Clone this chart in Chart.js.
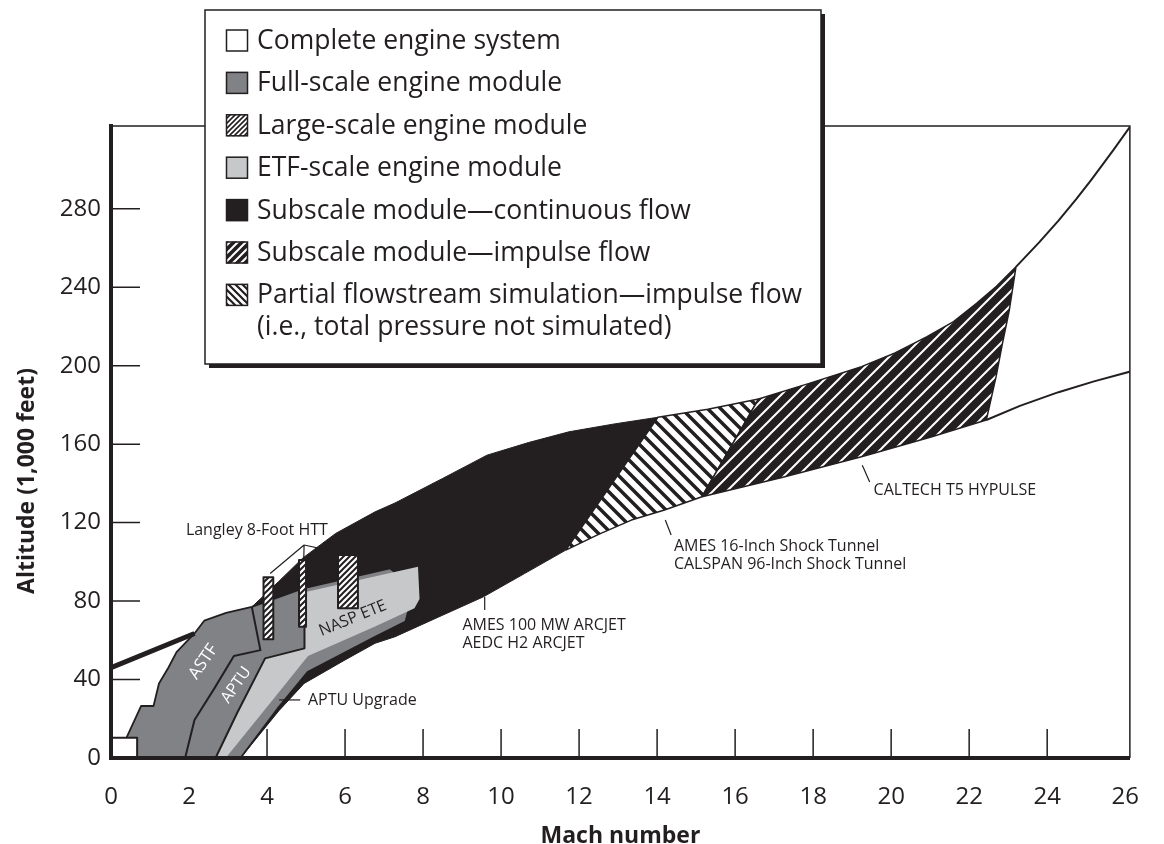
<!DOCTYPE html>
<html>
<head>
<meta charset="utf-8">
<title>Test capability envelope</title>
<script src="https://cdn.jsdelivr.net/npm/chart.js@4"></script>
<style>
  html, body { margin: 0; background: #fff; }
  #wrap { width: 1164px; height: 844px; }
</style>
</head>
<body>
<div id="wrap"><canvas id="chart" width="1164" height="844"></canvas></div>
<script>
// axis ticks
const machTicks = [0, 2, 4, 6, 8, 10, 12, 14, 16, 18, 20, 22, 24, 26];
const altTicks = [0, 40, 80, 120, 160, 200, 240, 280];

// subscale module, continuous flow (arcjets)
const continuousMach = [3.32, 3.0, 3.61, 4.3, 4.92, 5.76, 6.77, 7.28, 8.5, 9.64, 10.7, 11.74, 12.9, 14.02, 11.66, 10.6, 9.55, 8.4, 7.28, 6.77, 6.0, 4.95, 4.3];
const continuousAlt = [0, 40, 77, 90, 102, 114.5, 125.5, 130, 142.5, 154.4, 160.8, 166.3, 170.3, 173.7, 106, 94, 82.2, 71.9, 61.8, 58.5, 50, 38, 24];

// full-scale engine module (ASTF, APTU, APTU upgrade)
const fullMach = [0.6, 0.41, 0.77, 1.09, 1.23, 1.47, 1.68, 2.14, 2.39, 2.95, 3.61, 4.92, 7.15, 7.45, 7.62, 7.55, 6.77, 5.05, 4.3, 3.32];
const fullAlt = [0, 10.9, 26.5, 26.5, 38, 46, 54, 63.5, 70, 74, 77, 86.5, 96.7, 92, 75, 69.5, 61.8, 44, 26, 0];

// ETF-scale engine module (NASP ETE)
const etfMach = [2.68, 3.23, 3.95, 4.96, 4.96, 7.87, 7.91, 7.78, 6.77, 5.05, 4.2, 2.94];
const etfAlt = [0, 22.8, 50.8, 55.9, 84.5, 97.5, 81, 76.3, 67, 52, 31, 0];

// facility boundaries
const astfEdgeMach = [3.61, 3.83, 3.15, 2.65, 2.14, 1.9];
const astfEdgeAlt = [77, 55, 52, 35.5, 19.4, 0];
const aptuEdgeMach = [2.68, 3.23, 3.95, 4.96, 4.96];
const aptuEdgeAlt = [0, 22.8, 50.8, 55.9, 86];
const ceilingMach = [0, 2.14];
const ceilingAlt = [46, 63.5];

// partial flowstream simulation (shock tunnels)
const partialMach = [11.66, 14.02, 15.3, 16.6, 15.15, 14.19, 13.34, 12.5];
const partialAlt = [106, 173.7, 177.8, 183, 133.2, 126.4, 121.3, 114];

// subscale module, impulse flow (T5 / HYPULSE)
const impulseMach = [15.15, 16.6, 17.9, 19.24, 20.1, 20.92, 21.6, 22.19, 22.7, 23.2, 23.03, 22.85, 22.69, 22.44, 21.0, 19.24, 17.2];
const impulseAlt = [133.2, 183, 191, 199.5, 206.5, 214.8, 222.5, 231.8, 240.5, 250.4, 228.4, 211, 194.4, 172.3, 163.5, 153.6, 143];

// flight corridor beyond the facilities
const upperTailMach = [23.2, 23.8, 24.29, 24.75, 25.14, 25.7, 26.13];
const upperTailAlt = [250.4, 263, 274, 285, 295, 310, 322];
const lowerTailMach = [22.44, 23.3, 24.29, 25.2, 26.13];
const lowerTailAlt = [172.3, 179.5, 186.5, 192, 197];

// complete engine system
const completeMach = [0, 0.67, 0.67, 0];
const completeAlt = [0, 0, 10.3, 10.3];

// Langley 8-Foot HTT, large-scale engine module
const langleyMachFrom = [3.91, 4.82, 5.82];
const langleyMachTo = [4.16, 5.0, 6.33];
const langleyAltFrom = [60.5, 66.9, 76.3];
const langleyAltTo = [92.1, 101.0, 103.5];

const legendLabels = [
  'Complete engine system',
  'Full-scale engine module',
  'Large-scale engine module',
  'ETF-scale engine module',
  'Subscale module\u2014continuous flow',
  'Subscale module\u2014impulse flow',
  'Partial flowstream simulation\u2014impulse flow\n(i.e., total pressure not simulated)'
];

const ink = '#231f20';
const fullGray = '#808285';
const etfGray = '#c7c8ca';
const fontFamily = '"Open Sans", "Noto Sans", sans-serif';

const canvas = document.getElementById('chart');
const ctx = canvas.getContext('2d');

// diagonal hatch as a repeating pattern
function hatch(size, bg, fg, width, dir) {
  const c = document.createElement('canvas');
  c.width = c.height = size;
  const g = c.getContext('2d');
  g.fillStyle = bg;
  g.fillRect(0, 0, size, size);
  g.strokeStyle = fg;
  g.lineWidth = width;
  g.beginPath();
  if (dir === '/') {
    g.moveTo(0, size); g.lineTo(size, 0);
    g.moveTo(-size / 2, size / 2); g.lineTo(size / 2, -size / 2);
    g.moveTo(size / 2, size * 1.5); g.lineTo(size * 1.5, size / 2);
  } else {
    g.moveTo(0, 0); g.lineTo(size, size);
    g.moveTo(-size / 2, size / 2); g.lineTo(size / 2, size * 1.5);
    g.moveTo(size / 2, -size / 2); g.lineTo(size * 1.5, size / 2);
  }
  g.stroke();
  return ctx.createPattern(c, 'repeat');
}

const largeFill = hatch(6, '#fff', ink, 2, '/');
const impulseFill = hatch(14, ink, '#fff', 2, '/');
const partialFill = hatch(13, '#fff', ink, 3.5, '\\');
const keyFills = ['#fff', fullGray, hatch(5, '#fff', ink, 1.6, '/'), etfGray, ink,
  hatch(8, ink, '#fff', 2, '/'), hatch(7, '#fff', ink, 2.2, '\\')];

function pts(mach, alt) {
  return mach.map((m, i) => ({ x: m, y: alt[i] }));
}

function shape(label, mach, alt, fill, width) {
  const data = pts(mach, alt);
  data.push({ ...data[0] });
  return {
    label, data, showLine: true, fill: 'shape',
    backgroundColor: fill,
    borderColor: width ? ink : 'rgba(0,0,0,0)',
    borderWidth: width,
    pointRadius: 0
  };
}

function path(label, mach, alt, width) {
  return { label, data: pts(mach, alt), showLine: true, fill: false, borderColor: ink, borderWidth: width, pointRadius: 0 };
}

// bottom layer first
const layers = [
  shape('Subscale module\u2014continuous flow', continuousMach, continuousAlt, ink, 1),
  shape('Full-scale engine module', fullMach, fullAlt, fullGray, 1.8),
  path('ceiling', ceilingMach, ceilingAlt, 5),
  shape('ETF-scale engine module', etfMach, etfAlt, etfGray, 0),
  path('ASTF edge', astfEdgeMach, astfEdgeAlt, 2),
  path('APTU edge', aptuEdgeMach, aptuEdgeAlt, 2),
  shape('Partial flowstream simulation', partialMach, partialAlt, partialFill, 1.5),
  shape('Subscale module\u2014impulse flow', impulseMach, impulseAlt, impulseFill, 1.5),
  path('upper corridor', upperTailMach, upperTailAlt, 2),
  path('lower corridor', lowerTailMach, lowerTailAlt, 2),
  ...langleyMachFrom.map((m0, i) => shape('Large-scale engine module',
    [m0, langleyMachTo[i], langleyMachTo[i], m0],
    [langleyAltFrom[i], langleyAltFrom[i], langleyAltTo[i], langleyAltTo[i]], largeFill, 2)),
  shape('Complete engine system', completeMach, completeAlt, '#fff', 2)
];
layers.forEach((d, i) => { d.order = layers.length - i; });

// facility call-outs, placed in data units
const callouts = [
  { lines: ['Langley 8-Foot HTT'], mach: 3.74, alt: 115.9, align: 'center',
    leaders: [[4.95, 108.6, 4.08, 94.1], [4.95, 108.6, 4.94, 100.1], [4.95, 108.6, 5.95, 104.3]] },
  { lines: ['APTU Upgrade'], mach: 5.05, alt: 29.6, align: 'left', leaders: [[4.31, 29.6, 4.85, 29.6]] },
  { lines: ['AMES 100 MW ARCJET', 'AEDC H2 ARCJET'], mach: 9.01, alt: 67.8, align: 'left', leaders: [[9.58, 82.1, 9.58, 75.4]] },
  { lines: ['AMES 16-Inch Shock Tunnel', 'CALSPAN 96-Inch Shock Tunnel'], mach: 14.43, alt: 107.7, align: 'left', leaders: [[14.21, 121.3, 14.36, 113.7]] },
  { lines: ['CALTECH T5 HYPULSE'], mach: 19.55, alt: 136.3, align: 'left', leaders: [[19.26, 149.2, 19.45, 140.7]] }
];
const regionNames = [
  { text: 'ASTF', mach: 2.37, alt: 49.1, angle: -55.6, color: '#fff', size: 17 },
  { text: 'APTU', mach: 3.21, alt: 37.2, angle: -55, color: '#fff', size: 16 },
  { text: 'NASP ETE', mach: 6.2, alt: 71.2, angle: -22.3, color: ink, size: 16 }
];

const decor = {
  id: 'decor',
  beforeDatasetsDraw(chart) {
    const { ctx, chartArea: a, scales: { x, y } } = chart;
    ctx.save();
    ctx.strokeStyle = ink;
    ctx.lineWidth = 1.5;
    ctx.beginPath();
    machTicks.forEach(v => {
      if (v <= 0 || v >= 26) return;
      const px = x.getPixelForValue(v);
      ctx.moveTo(px, a.bottom);
      ctx.lineTo(px, a.bottom - 29);
    });
    altTicks.forEach(v => {
      if (v <= 0) return;
      const py = y.getPixelForValue(v);
      ctx.moveTo(a.left, py);
      ctx.lineTo(a.left + 29, py);
    });
    ctx.stroke();
    ctx.restore();
  },
  afterDatasetsDraw(chart) {
    const { ctx, chartArea: a, scales: { x, y } } = chart;
    ctx.save();
    // top and right frame
    ctx.strokeStyle = ink;
    ctx.lineWidth = 1.5;
    ctx.beginPath();
    ctx.moveTo(a.left, a.top);
    ctx.lineTo(a.right, a.top);
    ctx.lineTo(a.right, a.bottom);
    ctx.stroke();

    // call-outs
    ctx.lineWidth = 1.2;
    ctx.fillStyle = ink;
    ctx.font = `16px ${fontFamily}`;
    ctx.textBaseline = 'middle';
    callouts.forEach(c => {
      ctx.beginPath();
      c.leaders.forEach(l => {
        ctx.moveTo(x.getPixelForValue(l[0]), y.getPixelForValue(l[1]));
        ctx.lineTo(x.getPixelForValue(l[2]), y.getPixelForValue(l[3]));
      });
      ctx.stroke();
      ctx.textAlign = c.align;
      c.lines.forEach((t, j) => ctx.fillText(t, x.getPixelForValue(c.mach), y.getPixelForValue(c.alt) + j * 18));
    });

    regionNames.forEach(r => {
      ctx.save();
      ctx.translate(x.getPixelForValue(r.mach), y.getPixelForValue(r.alt));
      ctx.rotate(r.angle * Math.PI / 180);
      ctx.font = `${r.size}px ${fontFamily}`;
      ctx.fillStyle = r.color;
      ctx.textAlign = 'center';
      ctx.fillText(r.text, 0, 0);
      ctx.restore();
    });
    ctx.restore();
  },
  afterDraw(chart) {
    const ctx = chart.ctx;
    ctx.save();
    // y axis title
    ctx.fillStyle = ink;
    ctx.font = `bold 23px ${fontFamily}`;
    ctx.textAlign = 'center';
    ctx.textBaseline = 'middle';
    ctx.translate(27, 481);
    ctx.rotate(-Math.PI / 2);
    ctx.fillText('Altitude (1,000 feet)', 0, 0);
    ctx.restore();

    // key box with drop shadow
    ctx.save();
    const bx = 205, by = 10, bw = 616, bh = 354;
    ctx.fillStyle = ink;
    ctx.fillRect(bx + 4, by + 4, bw, bh);
    ctx.fillStyle = '#fff';
    ctx.fillRect(bx, by, bw, bh);
    ctx.strokeStyle = ink;
    ctx.lineWidth = 1.5;
    ctx.strokeRect(bx, by, bw, bh);
    ctx.font = `26.5px ${fontFamily}`;
    ctx.textAlign = 'left';
    ctx.textBaseline = 'middle';
    legendLabels.forEach((label, i) => {
      const cy = 40.5 + i * 42.4;
      ctx.fillStyle = keyFills[i];
      ctx.fillRect(226, cy - 11, 22, 22);
      ctx.strokeRect(226.5, cy - 10.5, 21, 21);
      ctx.fillStyle = ink;
      label.split('\n').forEach((line, j) => ctx.fillText(line, 257, cy + 1 + j * 32));
    });
    ctx.restore();
  }
};

Chart.defaults.font.family = fontFamily;
Chart.defaults.color = ink;

new Chart(ctx, {
  type: 'scatter',
  data: { datasets: layers },
  options: {
    responsive: false,
    animation: false,
    events: [],
    devicePixelRatio: 1,
    layout: { padding: { top: 126, right: 18, left: 0, bottom: 0 } },
    elements: { line: { tension: 0, borderJoinStyle: 'round' }, point: { radius: 0 } },
    plugins: { legend: { display: false }, tooltip: { enabled: false } },
    scales: {
      x: {
        type: 'linear',
        min: 0,
        max: 26.12,
        afterBuildTicks: s => { s.ticks = machTicks.map(v => ({ value: v })); },
        afterFit: s => { s.height = 86; },
        grid: { display: false, drawTicks: false },
        border: { display: true, width: 4, color: ink, z: 1 },
        ticks: { font: { size: 24 }, padding: 25, maxRotation: 0, autoSkip: false },
        title: { display: true, text: 'Mach number', font: { size: 23, weight: 'bold', lineHeight: 1 }, padding: { top: 0, bottom: -4 } }
      },
      y: {
        type: 'linear',
        min: 0,
        max: 322.2,
        afterBuildTicks: s => { s.ticks = altTicks.map(v => ({ value: v })); },
        afterFit: s => { s.width = 111; },
        grid: { display: false, drawTicks: false },
        border: { display: true, width: 4, color: ink, z: 1 },
        ticks: { font: { size: 24 }, padding: 10, autoSkip: false }
      }
    }
  },
  plugins: [decor]
});
</script>
</body>
</html>
